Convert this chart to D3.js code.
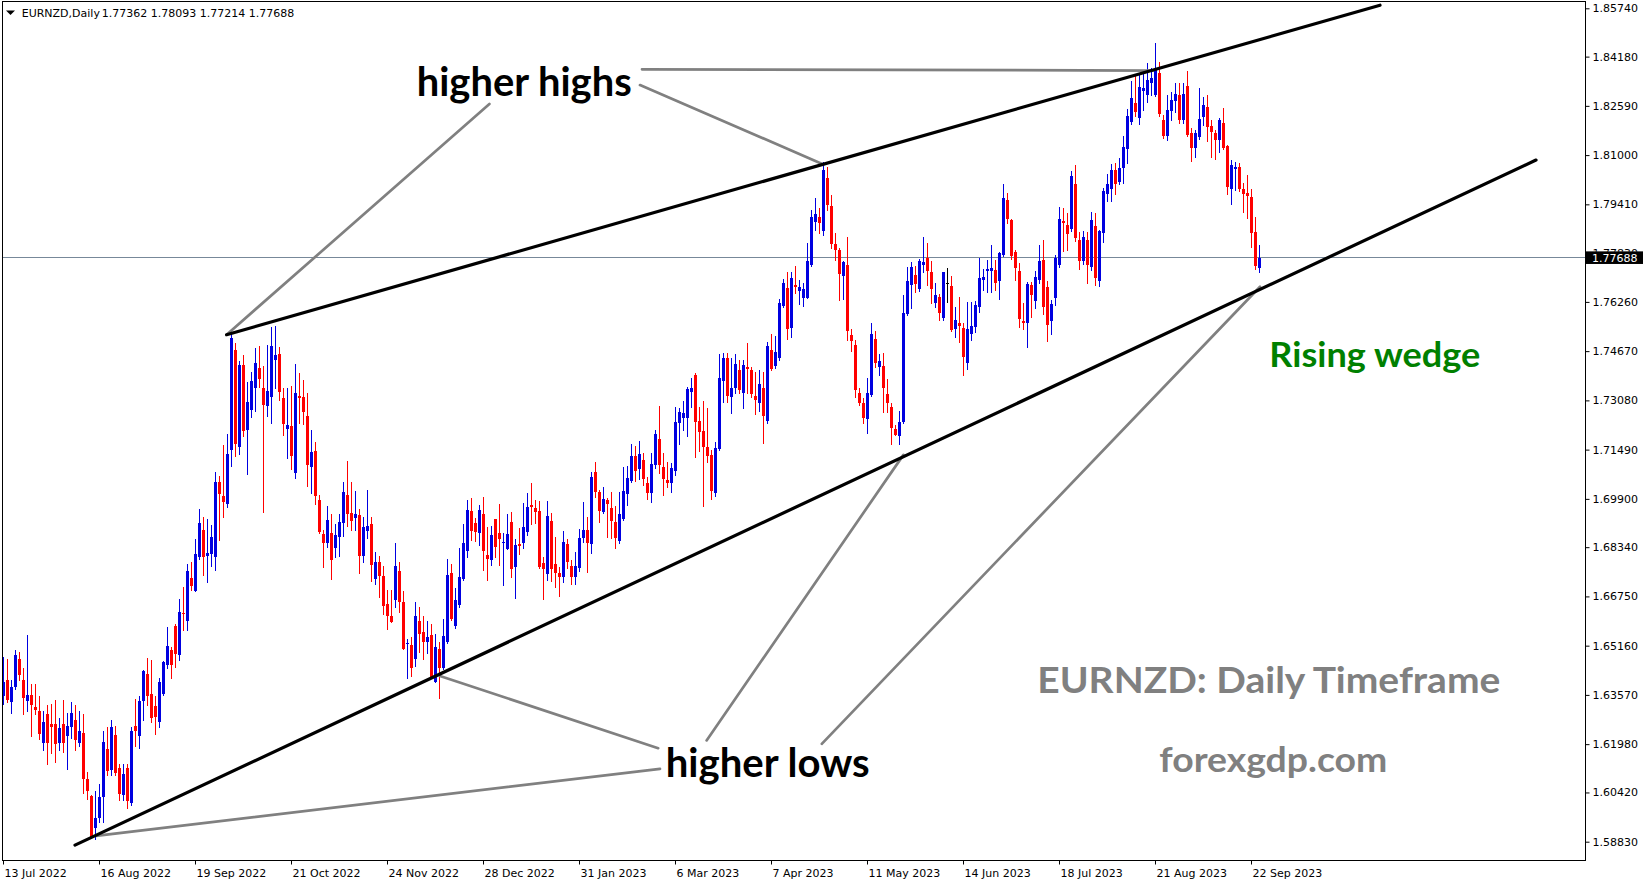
<!DOCTYPE html>
<html>
<head>
<meta charset="utf-8">
<script src="https://cdn.jsdelivr.net/npm/d3@7"></script>
<style>
  html, body { margin: 0; padding: 0; background: #fff; overflow: hidden; }
  svg { display: block; }
  .axis text { font-family: "DejaVu Sans", sans-serif; font-size: 11px; fill: #000; }
  .axis line { stroke: #000; }
</style>
</head>
<body>
<svg id="chart" width="1649" height="884"></svg>
<script>
// ---- data ----
var symbol = "EURNZD,Daily";
var dateLabels = ["13 Jul 2022", "16 Aug 2022", "19 Sep 2022", "21 Oct 2022", "24 Nov 2022",
  "28 Dec 2022", "31 Jan 2023", "6 Mar 2023", "7 Apr 2023", "11 May 2023", "14 Jun 2023",
  "18 Jul 2023", "21 Aug 2023", "22 Sep 2023"];
var labelEvery = 24; // one date label every 24 bars
var priceTicks = [1.85740, 1.84180, 1.82590, 1.81000, 1.79410, 1.77830, 1.76260, 1.74670, 1.73080,
  1.71490, 1.69900, 1.68340, 1.66750, 1.65160, 1.63570, 1.61980, 1.60420, 1.58830];

var opens = [
  1.6352,1.6404,1.6335,1.6381,1.6473,1.6404,1.6338,1.6358,1.6317,1.6306,
  1.6202,1.6294,1.6263,1.6263,1.6202,1.6262,1.6223,1.6254,1.6277,1.6202,
  1.6234,1.6084,1.6029,1.5928,1.5958,1.6026,1.6182,1.6116,1.6228,1.6121,
  1.6035,1.6121,1.6008,1.6256,1.6223,1.6338,1.6424,1.6360,1.6320,1.6268,
  1.6360,1.6453,1.6502,1.6580,1.6487,1.6623,1.6596,1.6735,1.6694,1.6802,
  1.6888,1.6804,1.6813,1.6802,1.7044,1.7000,1.6972,1.7148,1.7471,1.7159,
  1.7422,1.7211,1.7278,1.7349,1.7413,1.7349,1.7290,1.7318,1.7439,1.7459,
  1.7315,1.7217,1.7226,1.7075,1.7323,1.7318,1.7257,1.7092,1.7145,1.6986,
  1.6877,1.6846,1.6881,1.6832,1.6866,1.6911,1.7003,1.6943,1.6927,1.6938,
  1.6806,1.6887,1.6909,1.6731,1.6787,1.6741,1.6651,1.6612,1.6663,1.6757,
  1.6656,1.6521,1.6517,1.6472,1.6595,1.6559,1.6529,1.6550,1.6400,1.6504,
  1.6443,1.6529,1.6750,1.6580,1.6647,1.6730,1.6823,1.6952,1.6913,1.6879,
  1.6941,1.6809,1.6793,1.6925,1.6881,1.6849,1.6828,1.6916,1.6771,1.6844,
  1.6849,1.6884,1.6970,1.6962,1.6952,1.6782,1.6746,1.6919,1.6780,1.6752,
  1.6737,1.6843,1.6774,1.6737,1.6768,1.6863,1.6890,1.6843,1.7076,1.7013,
  1.6949,1.6986,1.6959,1.6916,1.6855,1.6924,1.7006,1.7049,1.7128,1.7085,
  1.7115,1.7040,1.7008,1.7100,1.7182,1.7092,1.7051,1.7040,1.7081,1.7236,
  1.7250,1.7250,1.7336,1.7390,1.7241,1.7209,1.7159,1.7132,1.7008,1.7151,
  1.7372,1.7444,1.7320,1.7347,1.7406,1.7333,1.7415,1.7406,1.7322,1.7301,
  1.7347,1.7241,1.7471,1.7419,1.7444,1.7614,1.7670,1.7541,1.7681,1.7662,
  1.7640,1.7640,1.7745,1.7885,1.7899,1.7856,1.8025,1.7936,1.7813,1.7792,
  1.7708,1.7745,1.7519,1.7487,1.7331,1.7299,1.7247,1.7326,1.7506,1.7417,
  1.7419,1.7329,1.7288,1.7216,1.7194,1.7239,1.7586,1.7681,1.7713,1.7668,
  1.7745,1.7767,1.7721,1.7621,1.7643,1.7573,1.7686,1.7677,1.7538,1.7559,
  1.7543,1.7430,1.7522,1.7544,1.7611,1.7697,1.7727,1.7727,1.7729,1.7695,
  1.7777,1.7955,1.7890,1.7788,1.7726,1.7564,1.7559,1.7681,1.7630,1.7697,
  1.7761,1.7675,1.7565,1.7638,1.7745,1.7887,1.7874,1.7860,1.8007,1.7826,
  1.7759,1.7826,1.7740,1.7871,1.7695,1.7847,1.7973,1.7991,1.8052,1.8014,
  1.8057,1.8120,1.8208,1.8269,1.8221,1.8308,1.8294,1.8334,1.8294,1.8366,
  1.8213,1.8162,1.8244,1.8276,1.8294,1.8213,1.8323,1.8170,1.8122,1.8160,
  1.8224,1.8254,1.8195,1.8172,1.8149,1.8205,1.8129,1.7989,1.8054,1.8063,
  1.7989,1.7977,1.7966,1.7853,1.77362];

var highs = [
  1.6479,1.6473,1.6404,1.6502,1.6496,1.6444,1.6550,1.6392,1.6392,1.6355,
  1.6306,1.6323,1.6329,1.6340,1.6283,1.6340,1.6300,1.6335,1.6323,1.6306,
  1.6294,1.6107,1.6035,1.6046,1.6069,1.6239,1.6254,1.6277,1.6257,1.6133,
  1.6133,1.6135,1.6254,1.6344,1.6354,1.6438,1.6476,1.6470,1.6354,1.6410,
  1.6467,1.6577,1.6513,1.6585,1.6666,1.6706,1.6781,1.6787,1.6859,1.6957,
  1.6931,1.6925,1.6905,1.7078,1.7063,1.7165,1.7200,1.7522,1.7494,1.7436,
  1.7453,1.7367,1.7401,1.7476,1.7482,1.7419,1.7488,1.7546,1.7548,1.7479,
  1.7349,1.7349,1.7355,1.7424,1.7398,1.7373,1.7332,1.7211,1.7173,1.7004,
  1.6888,1.6967,1.6941,1.6909,1.6941,1.7046,1.7112,1.7046,1.7017,1.6956,
  1.6933,1.7019,1.6930,1.6817,1.6806,1.6773,1.6696,1.6696,1.6846,1.6785,
  1.6693,1.6538,1.6543,1.6656,1.6640,1.6612,1.6595,1.6586,1.6554,1.6529,
  1.6602,1.6796,1.6780,1.6701,1.6832,1.6909,1.6986,1.6992,1.6927,1.6970,
  1.6995,1.6900,1.6902,1.6925,1.6973,1.6879,1.6940,1.6949,1.6860,1.6895,
  1.6976,1.7008,1.7042,1.6986,1.6984,1.6803,1.6984,1.6943,1.6868,1.6771,
  1.6886,1.6859,1.6793,1.6817,1.6893,1.6981,1.6933,1.7078,1.7108,1.7019,
  1.7029,1.6994,1.7011,1.6968,1.7013,1.7094,1.7096,1.7166,1.7161,1.7177,
  1.7139,1.7062,1.7137,1.7213,1.7290,1.7137,1.7110,1.7105,1.7288,1.7282,
  1.7307,1.7352,1.7379,1.7398,1.7288,1.7306,1.7282,1.7148,1.7175,1.7458,
  1.7462,1.7460,1.7444,1.7457,1.7439,1.7439,1.7492,1.7417,1.7401,1.7406,
  1.7401,1.7498,1.7522,1.7516,1.7634,1.7700,1.7722,1.7721,1.7742,1.7697,
  1.7686,1.7817,1.7923,1.7961,1.7928,1.8079,1.8063,1.7971,1.7848,1.7799,
  1.7759,1.7835,1.7538,1.7503,1.7347,1.7315,1.7379,1.7559,1.7533,1.7458,
  1.7460,1.7377,1.7299,1.7229,1.7275,1.7648,1.7740,1.7756,1.7742,1.7764,
  1.7835,1.7815,1.7759,1.7688,1.7652,1.7724,1.7737,1.7708,1.7611,1.7643,
  1.7559,1.7627,1.7627,1.7630,1.7767,1.7731,1.7761,1.7810,1.7761,1.7788,
  1.8006,1.7977,1.7893,1.7794,1.7753,1.7621,1.7691,1.7691,1.7727,1.7810,
  1.7826,1.7694,1.7632,1.7777,1.7934,1.7928,1.7912,1.8049,1.8068,1.7853,
  1.7856,1.7853,1.7917,1.7914,1.7858,1.7993,1.8039,1.8071,1.8073,1.8090,
  1.8162,1.8248,1.8340,1.8359,1.8364,1.8366,1.8396,1.8380,1.8461,1.8400,
  1.8229,1.8294,1.8305,1.8332,1.8334,1.8334,1.8372,1.8186,1.8181,1.8316,
  1.8287,1.8294,1.8213,1.8181,1.8219,1.8251,1.8133,1.8084,1.8079,1.8076,
  1.8011,1.8036,1.7989,1.7901,1.78093];

var lows = [
  1.6329,1.6335,1.6300,1.6375,1.6404,1.6294,1.6306,1.6225,1.6294,1.6214,
  1.6179,1.6133,1.6168,1.6139,1.6179,1.6173,1.6119,1.6219,1.6179,1.6191,
  1.6041,1.6020,1.5896,1.5891,1.5948,1.5946,1.6098,1.6098,1.6098,1.6018,
  1.6018,1.5992,1.6000,1.6191,1.6185,1.6277,1.6323,1.6271,1.6231,1.6254,
  1.6358,1.6444,1.6410,1.6447,1.6470,1.6565,1.6565,1.6696,1.6694,1.6796,
  1.6744,1.6721,1.6773,1.6761,1.6856,1.6931,1.6965,1.7096,1.7130,1.7136,
  1.7194,1.7069,1.7254,1.7274,1.7352,1.6946,1.7257,1.7234,1.7349,1.7309,
  1.7196,1.7121,1.7088,1.7058,1.7236,1.7231,1.7032,1.7009,1.6972,1.6880,
  1.6769,1.6836,1.6731,1.6803,1.6807,1.6870,1.6902,1.6889,1.6889,1.6752,
  1.6787,1.6863,1.6725,1.6715,1.6674,1.6618,1.6570,1.6593,1.6642,1.6626,
  1.6506,1.6413,1.6419,1.6451,1.6497,1.6474,1.6491,1.6414,1.6400,1.6348,
  1.6440,1.6526,1.6599,1.6574,1.6642,1.6728,1.6803,1.6857,1.6855,1.6841,
  1.6760,1.6728,1.6776,1.6803,1.6776,1.6712,1.6828,1.6737,1.6671,1.6812,
  1.6830,1.6873,1.6909,1.6911,1.6766,1.6666,1.6728,1.6726,1.6706,1.6677,
  1.6723,1.6766,1.6715,1.6715,1.6758,1.6852,1.6755,1.6814,1.6995,1.6916,
  1.6943,1.6868,1.6865,1.6830,1.6849,1.6922,1.6970,1.7046,1.7049,1.7053,
  1.7035,1.6989,1.6981,1.7089,1.7073,1.7003,1.7027,1.7013,1.7067,1.7167,
  1.7213,1.7193,1.7288,1.7126,1.7143,1.6968,1.7110,1.6989,1.7000,1.7148,
  1.7304,1.7304,1.7268,1.7331,1.7333,1.7282,1.7331,1.7320,1.7264,1.7275,
  1.7169,1.7236,1.7406,1.7412,1.7439,1.7611,1.7506,1.7512,1.7656,1.7619,
  1.7614,1.7638,1.7742,1.7858,1.7848,1.7842,1.7923,1.7799,1.7761,1.7632,
  1.7635,1.7503,1.7469,1.7320,1.7293,1.7236,1.7202,1.7322,1.7415,1.7390,
  1.7270,1.7272,1.7167,1.7196,1.7167,1.7236,1.7584,1.7605,1.7659,1.7661,
  1.7724,1.7681,1.7621,1.7611,1.7566,1.7568,1.7627,1.7533,1.7514,1.7496,
  1.7390,1.7408,1.7503,1.7530,1.7594,1.7664,1.7659,1.7659,1.7664,1.7634,
  1.7774,1.7882,1.7763,1.7697,1.7546,1.7538,1.7479,1.7578,1.7605,1.7686,
  1.7587,1.7501,1.7522,1.7616,1.7738,1.7791,1.7794,1.7856,1.7824,1.7731,
  1.7748,1.7686,1.7729,1.7681,1.7678,1.7821,1.7952,1.7953,1.7974,1.8007,
  1.8011,1.8076,1.8200,1.8226,1.8200,1.8246,1.8272,1.8294,1.8291,1.8226,
  1.8154,1.8149,1.8213,1.8240,1.8205,1.8203,1.8162,1.8082,1.8093,1.8151,
  1.8197,1.8147,1.8095,1.8086,1.8111,1.8119,1.7973,1.7942,1.7987,1.7985,
  1.7917,1.7896,1.7804,1.7731,1.77214];

var closes = [
  1.6398,1.6340,1.6381,1.6485,1.6421,1.6348,1.6358,1.6325,1.6309,1.6231,
  1.6271,1.6202,1.6254,1.6200,1.6250,1.6202,1.6257,1.6300,1.6211,1.6239,
  1.6084,1.6046,1.5899,1.5960,1.6027,1.6204,1.6110,1.6254,1.6104,1.6038,
  1.6101,1.6014,1.6239,1.6240,1.6337,1.6433,1.6352,1.6283,1.6285,1.6398,
  1.6462,1.6516,1.6452,1.6490,1.6625,1.6619,1.6758,1.6709,1.6811,1.6911,
  1.6802,1.6816,1.6867,1.7046,1.7006,1.6980,1.7136,1.7511,1.7168,1.7422,
  1.7208,1.7303,1.7369,1.7428,1.7378,1.7292,1.7338,1.7482,1.7456,1.7336,
  1.7232,1.7228,1.7128,1.7332,1.7315,1.7272,1.7098,1.7140,1.7000,1.6882,
  1.6846,1.6922,1.6791,1.6873,1.6914,1.7013,1.6941,1.6920,1.6940,1.6806,
  1.6900,1.6902,1.6776,1.6787,1.6741,1.6645,1.6613,1.6593,1.6773,1.6658,
  1.6506,1.6526,1.6445,1.6612,1.6553,1.6529,1.6544,1.6416,1.6512,1.6445,
  1.6547,1.6744,1.6601,1.6663,1.6739,1.6846,1.6954,1.6887,1.6884,1.6954,
  1.6823,1.6796,1.6873,1.6836,1.6860,1.6851,1.6877,1.6764,1.6841,1.6838,
  1.6898,1.6963,1.6963,1.6949,1.6771,1.6762,1.6935,1.6764,1.6752,1.6739,
  1.6850,1.6785,1.6737,1.6774,1.6865,1.6890,1.6849,1.7060,1.7011,1.6952,
  1.6990,1.6973,1.6919,1.6863,1.6941,1.7017,1.7056,1.7128,1.7081,1.7135,
  1.7053,1.7008,1.7103,1.7200,1.7100,1.7053,1.7042,1.7089,1.7237,1.7272,
  1.7268,1.7346,1.7347,1.7239,1.7207,1.7157,1.7130,1.7017,1.7153,1.7379,
  1.7444,1.7322,1.7347,1.7426,1.7340,1.7422,1.7408,1.7329,1.7309,1.7361,
  1.7258,1.7484,1.7408,1.7463,1.7621,1.7686,1.7539,1.7702,1.7675,1.7673,
  1.7669,1.7758,1.7899,1.7910,1.7880,1.8052,1.7939,1.7813,1.7794,1.7716,
  1.7754,1.7532,1.7500,1.7340,1.7299,1.7252,1.7331,1.7522,1.7428,1.7436,
  1.7347,1.7301,1.7218,1.7196,1.7239,1.7591,1.7695,1.7738,1.7684,1.7759,
  1.7756,1.7727,1.7668,1.7648,1.7591,1.7721,1.7686,1.7535,1.7568,1.7548,
  1.7447,1.7540,1.7548,1.7616,1.7702,1.7707,1.7731,1.7734,1.7686,1.7783,
  1.7960,1.7893,1.7774,1.7734,1.7570,1.7559,1.7684,1.7648,1.7705,1.7759,
  1.7609,1.7551,1.7619,1.7769,1.7894,1.7880,1.7845,1.8032,1.7831,1.7759,
  1.7834,1.7745,1.7890,1.7702,1.7856,1.7984,1.8007,1.8052,1.8007,1.8059,
  1.8125,1.8226,1.8283,1.8240,1.8319,1.8316,1.8343,1.8350,1.8377,1.8233,
  1.8162,1.8246,1.8278,1.8297,1.8213,1.8297,1.8165,1.8122,1.8170,1.8216,
  1.8262,1.8192,1.8174,1.8149,1.8213,1.8122,1.7996,1.8068,1.8063,1.7989,
  1.7973,1.7968,1.7847,1.7742,1.77688];

// trend lines drawn on the chart: [bar, price, bar, price]
var wedgeLines = [
  [55.9, 1.7520, 344.25, 1.8584],   // upper (resistance) line
  [18.0, 1.5872, 383.25, 1.8084]    // lower (support) line
];
var pointerLines = [
  [121.6, 1.8265, 55.9, 1.7520],
  [159.25, 1.8326, 205.1, 1.8070],
  [159.75, 1.8377, 287.5, 1.8373],
  [163.8, 1.6185, 109.25, 1.6418],
  [164.25, 1.6118, 23.25, 1.5902],
  [175.9, 1.6210, 225.1, 1.7132],
  [204.7, 1.6199, 314.25, 1.7675]
];
var notes = ["higher highs", "higher lows", "Rising wedge", "EURNZD: Daily Timeframe", "forexgdp.com"];

// ---- layout ----
var plot = {left: 2, top: 2, right: 1585, bottom: 860};
var svg = d3.select("#chart");

var xScale = d3.scaleLinear()
               .domain([0, 395.5])          // 4 px per bar
               .range([3, plot.right]);
var yScale = d3.scaleLinear()
               .domain([1.5883, 1.8574])
               .range([841.7, 8.3]);

var bars = closes.map(function(c, i){
  return {i: i, o: opens[i], h: highs[i], l: lows[i], c: c};
});
var lastPrice = closes[closes.length - 1];
var py = yScale(lastPrice);

var defs = svg.append("defs");
defs.append("clipPath").attr("id", "plotClip")
    .append("rect")
    .attr("x", plot.left + 1).attr("y", plot.top + 1)
    .attr("width", plot.right - plot.left - 1)
    .attr("height", plot.bottom - plot.top - 1);
// the price label that sits under the bid box only peeks out above it
defs.append("clipPath").attr("id", "peekClip")
    .append("rect")
    .attr("x", plot.right).attr("y", 0)
    .attr("width", 80).attr("height", py - 6.3);

// bid line
svg.append("line")
   .attr("x1", plot.left).attr("x2", plot.right)
   .attr("y1", Math.floor(py) + 0.5)
   .attr("y2", Math.floor(py) + 0.5)
   .attr("stroke", "#778899").attr("stroke-width", 1);

// candles
function colorOf(d){
  if(d.c > d.o) return "#0000e0";
  if(d.c < d.o) return "#ff0000";
  return "#000000";
}
var candles = svg.append("g")
                 .attr("clip-path", "url(#plotClip)")
                 .attr("shape-rendering", "crispEdges")
                 .selectAll("g")
                 .data(bars)
                 .enter()
                 .append("g");
candles.append("rect")
       .attr("x", function(d){ return Math.round(xScale(d.i)); })
       .attr("y", function(d){ return Math.round(yScale(d.h)); })
       .attr("width", 1)
       .attr("height", function(d){
         return Math.max(1, Math.round(yScale(d.l)) - Math.round(yScale(d.h)) + 1);
       })
       .attr("fill", colorOf);
candles.append("rect")
       .attr("x", function(d){ return Math.round(xScale(d.i)) - 1; })
       .attr("y", function(d){ return Math.round(yScale(Math.max(d.o, d.c))); })
       .attr("width", 3)
       .attr("height", function(d){
         return Math.max(1, Math.round(yScale(Math.min(d.o, d.c))) - Math.round(yScale(Math.max(d.o, d.c))));
       })
       .attr("fill", colorOf);

// annotation lines
var lineLayer = svg.append("g").attr("clip-path", "url(#plotClip)");
lineLayer.selectAll("line.pointer")
         .data(pointerLines)
         .enter()
         .append("line")
         .attr("x1", function(d){ return xScale(d[0]); })
         .attr("y1", function(d){ return yScale(d[1]); })
         .attr("x2", function(d){ return xScale(d[2]); })
         .attr("y2", function(d){ return yScale(d[3]); })
         .attr("stroke", "#808080")
         .attr("stroke-width", 2.7)
         .attr("stroke-linecap", "round");
lineLayer.selectAll("line.wedge")
         .data(wedgeLines)
         .enter()
         .append("line")
         .attr("x1", function(d){ return xScale(d[0]); })
         .attr("y1", function(d){ return yScale(d[1]); })
         .attr("x2", function(d){ return xScale(d[2]); })
         .attr("y2", function(d){ return yScale(d[3]); })
         .attr("stroke", "#000")
         .attr("stroke-width", 3.2)
         .attr("stroke-linecap", "round");

// annotation texts
var noteStyle = [
  {x: 416.7, y: 96,    size: 40,   fill: "#000",    len: 215},
  {x: 665.7, y: 776.7, size: 40,   fill: "#000",    len: 204},
  {x: 1269.3, y: 367.3, size: 34.5, fill: "#008000", len: 211},
  {x: 1037.3, y: 693.3, size: 37,  fill: "#808080", len: 463},
  {x: 1159.3, y: 771.7, size: 35,  fill: "#808080", len: 228}
];
svg.selectAll("text.note")
   .data(notes)
   .enter()
   .append("text")
   .attr("class", "note")
   .attr("x", function(d, i){ return noteStyle[i].x; })
   .attr("y", function(d, i){ return noteStyle[i].y; })
   .attr("font-family", "Lato, 'Open Sans', sans-serif")
   .attr("font-weight", "bold")
   .attr("font-size", function(d, i){ return noteStyle[i].size; })
   .attr("fill", function(d, i){ return noteStyle[i].fill; })
   .attr("textLength", function(d, i){ return noteStyle[i].len; })
   .attr("lengthAdjust", "spacingAndGlyphs")
   .text(function(d){ return d; });

// frame
svg.append("rect")
   .attr("x", plot.left + 0.5).attr("y", plot.top - 0.5)
   .attr("width", plot.right - plot.left)
   .attr("height", plot.bottom - plot.top + 1)
   .attr("fill", "none").attr("stroke", "#000").attr("stroke-width", 1)
   .attr("shape-rendering", "crispEdges");

// price axis
var yAxis = d3.axisRight(yScale)
              .tickValues(priceTicks)
              .tickSize(4)
              .tickPadding(3)
              .tickFormat(d3.format(".5f"));
var yG = svg.append("g")
            .attr("class", "axis")
            .attr("transform", "translate(" + (plot.right + 0.5) + ",0)")
            .call(yAxis);
yG.select(".domain").remove();
yG.selectAll("text").attr("font-family", null).attr("font-size", null);
// a tick label hidden by the bid box only shows its top edge
yG.selectAll(".tick")
  .filter(function(d){ return Math.abs(yScale(d) - py) < 12; })
  .select("text")
  .attr("clip-path", "url(#peekClip)")
  .attr("transform", function(d){ return "translate(" + (-plot.right - 0.5) + "," + (-yScale(d)) + ")"; })
  .attr("x", plot.right + 7.5)
  .attr("y", function(d){ return yScale(d); });

// time axis
var xAxis = d3.axisBottom(xScale)
              .tickValues(d3.range(0, closes.length, labelEvery))
              .tickSize(4)
              .tickPadding(4.5)
              .tickFormat(function(d, i){ return dateLabels[i]; });
var xG = svg.append("g")
            .attr("class", "axis")
            .attr("transform", "translate(0," + (plot.bottom + 0.5) + ")")
            .call(xAxis);
xG.select(".domain").remove();
xG.selectAll("text")
  .attr("font-family", null).attr("font-size", null)
  .attr("text-anchor", "start")
  .attr("x", 1);

// current price box
svg.append("rect")
   .attr("x", plot.right + 1).attr("y", py - 6.3)
   .attr("width", 57).attr("height", 12.6)
   .attr("fill", "#000");
svg.append("text")
   .attr("x", plot.right + 7).attr("y", py)
   .attr("dy", "0.36em")
   .attr("font-family", "DejaVu Sans, sans-serif").attr("font-size", 11)
   .attr("fill", "#fff")
   .text(d3.format(".5f")(lastPrice));

// header
svg.append("path")
   .attr("d", "M6,10.5 L15,10.5 L10.5,15 Z")
   .attr("fill", "#000");
svg.append("text")
   .attr("x", 21.7).attr("y", 16.5)
   .attr("font-family", "DejaVu Sans, sans-serif").attr("font-size", 11)
   .text(symbol);
var last = bars[bars.length - 1];
svg.append("text")
   .attr("x", 101.7).attr("y", 16.5)
   .attr("font-family", "DejaVu Sans, sans-serif").attr("font-size", 11)
   .text([last.o, last.h, last.l, last.c].map(d3.format(".5f")).join(" "));
</script>
</body>
</html>
